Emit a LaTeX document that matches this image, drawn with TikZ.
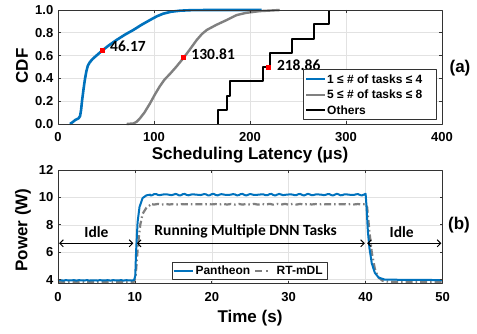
\documentclass[tikz,border=0pt]{standalone}
\usepackage{fontspec}
\setmainfont{Liberation Sans}
\newfontfamily\calibri{Carlito}
\usetikzlibrary{arrows.meta}
\definecolor{mblue}{RGB}{0,114,189}
\definecolor{mgray}{RGB}{128,128,128}
\definecolor{gridgray}{RGB}{226,226,226}
\tikzset{
	ticklabel/.style={font=\fontsize{13}{13}\selectfont\bfseries, inner sep=0pt},
	axlabel/.style={font=\fontsize{17}{17}\selectfont\bfseries, inner sep=0pt},
	callout/.style={font=\fontsize{15.5}{15.5}\selectfont\calibri\bfseries, inner sep=0pt},
	legtext/.style={font=\fontsize{12}{12}\selectfont\bfseries, anchor=west, inner sep=0pt},
	redmark/.style={fill=red, draw=none, minimum size=5pt, inner sep=0pt},
	frame/.style={draw=black!80, line width=0.8pt},
	spanarrow/.style={line width=1pt, {Straight Barb[length=3.5pt,width=7pt]}-{Straight Barb[length=3.5pt,width=7pt]}},
}

\begin{document}
\begin{tikzpicture}[x=1pt, y=1pt, line join=round]
			%%%%% START %%%%%
			\useasboundingbox[fill=white] (0,0) rectangle (477,333);
			
			% (a) scheduling latency
			\begin{scope}[shift={(58pt,209pt)}, x=0.96pt, y=114pt]
			\foreach \gx in {100,200,300} \draw[gridgray, line width=0.6pt] (\gx,0) -- (\gx,1);
			\foreach \gy in {0.2,0.4,0.6,0.8} \draw[gridgray, line width=0.6pt] (0,\gy) -- (400,\gy);
			
			\draw[line width=2.6pt, color=mblue] (12.5,0) -- (15,0.015) -- (18,0.035) -- (21.5,0.05) -- (23,0.07) -- (24,0.12) -- (25,0.2) -- (26.5,0.3) -- (28,0.39) -- (29.5,0.46) -- (31,0.51) -- (33,0.54) -- (36,0.57) -- (40,0.6) -- (46.17,0.645) -- (53,0.69) -- (61,0.737) -- (70,0.785) -- (78.5,0.825) -- (87,0.87) -- (95.8,0.912) -- (103,0.945) -- (109.7,0.968) -- (118,0.985) -- (127,0.994) -- (140,0.999) -- (160,1) -- (212,1);
			\draw[line width=2.4pt, color=mgray] (71.5,0) -- (78.5,0.005) -- (82,0.02) -- (85.4,0.05) -- (90,0.1) -- (95.8,0.18) -- (101,0.26) -- (106,0.33) -- (111,0.39) -- (116.7,0.44) -- (123,0.5) -- (130.81,0.58) -- (137,0.65) -- (144.5,0.737) -- (150,0.79) -- (155,0.825) -- (165,0.87) -- (175.7,0.912) -- (186,0.955) -- (196,0.975) -- (210,0.99) -- (231,1);
			\draw[line width=2pt, color=black] (167,0) |- (176,0.125) |- (179,0.25) |- (213.8,0.375) |- (220.8,0.5) |- (243.4,0.625) |- (267,0.75) |- (282,0.875) -- (282,1);
			
			\node[redmark] (m1) at (46.17,0.645) {};
			\node[redmark] (m2) at (130.81,0.58) {};
			\node[redmark] (m3) at (218.86,0.5) {};
			\node[callout, anchor=west] (v1) at ([xshift=5pt, yshift=4pt]m1.east) {46.17};
			\node[callout, anchor=west] (v2) at ([xshift=5pt, yshift=4pt]m2.east) {130.81};
			\node[callout, anchor=west] (v3) at ([xshift=6pt, yshift=2pt]m3.east) {218.86};
			
			\draw[frame] (0,0) rectangle (400,1);
			\foreach \gx in {100,200,300} {\draw[frame] (\gx,0) -- ++(0,3pt); \draw[frame] (\gx,1) -- ++(0,-3pt);}
			\foreach \gy in {0.2,0.4,0.6,0.8} {\draw[frame] (0,\gy) -- ++(3pt,0); \draw[frame] (400,\gy) -- ++(-3pt,0);}
			\foreach \gx in {0,100,200,300,400} \node[ticklabel] (xa\gx) at ([yshift=-13pt]\gx,0) {\gx};
			\foreach \gy/\gt in {0/0.0,0.2/0.2,0.4/0.4,0.6/0.6,0.8/0.8,1/1.0} \node[ticklabel, anchor=east] (ya\gt) at ([xshift=-4.5pt]0,\gy) {\gt};
			\end{scope}
			
			\node[axlabel] (xlabA) at (250,178) {Scheduling Latency (μs)};
			\node[axlabel, rotate=90] (ylabA) at (22,267) {CDF};
			\node[axlabel] (tagA) at (460,265) {(a)};
			
			\draw[fill=white, line width=0.8pt, draw=black!80] (303.7,214) rectangle (436,263.7);
			\coordinate (la1) at (306,253.7); \coordinate (lb1) at (325,253.7);
			\coordinate (la2) at (306,238.3); \coordinate (lb2) at (325,238.3);
			\coordinate (la3) at (306,223); \coordinate (lb3) at (325,223);
			\draw[line width=2pt, color=mblue] (la1) -- (lb1);
			\draw[line width=2pt, color=mgray] (la2) -- (lb2);
			\draw[line width=2pt, color=black] (la3) -- (lb3);
			\node[legtext] (lt1) at ([xshift=2pt]lb1) {1 ≤ \# of tasks ≤ 4};
			\node[legtext] (lt2) at ([xshift=2pt]lb2) {5 ≤ \# of tasks ≤ 8};
			\node[legtext] (lt3) at ([xshift=2pt]lb3) {Others};
			
			% (b) power
			\begin{scope}[shift={(58pt,-1.5pt)}, x=7.69pt, y=13.71pt]
			\foreach \gx in {10,20,30,40} \draw[gridgray, line width=0.6pt] (\gx,3.7) -- (\gx,12);
			\foreach \gy in {4,6,8,10} \draw[gridgray, line width=0.6pt] (0,\gy) -- (50,\gy);
			
			\draw[line width=2.2pt, color=mgray, dash pattern=on 7pt off 3pt on 1.5pt off 3pt] (0,3.85) -- (9.9,3.85) -- (10.1,4.3) -- (10.4,6.5) -- (10.7,8) -- (11,8.8) -- (11.5,9.25) -- (12,9.45) -- plot[domain=12:40, samples=57] (\x,{9.5+0.03*sin(370*\x)}) -- (40.2,9.3) -- (40.5,7.5) -- (40.8,6) -- (41.2,4.8) -- (41.6,4.2) -- (42.2,3.92) -- (43,3.85) -- (50,3.85);
			\draw[line width=2pt, color=mblue] plot[domain=0:9.9, samples=30] (\x,{3.95+0.02*sin(410*\x)}) -- (10.05,4.3) -- (10.15,6) -- (10.35,8.2) -- (10.6,9.3) -- (11,9.95) -- (11.5,10.15) -- (12,10.2) -- plot[domain=12:40, samples=113] (\x,{10.2+0.04*sin(290*\x)+0.025*sin(380*\x)}) -- (40.1,9.5) -- (40.3,7.5) -- (40.5,6.3) -- (40.8,5.2) -- (41.2,4.5) -- (41.7,4.15) -- (42.5,4.0) -- (50,3.97);
			
			\coordinate (s1a) at (0.15,6.65); \coordinate (s1b) at (9.8,6.65);
			\coordinate (s2a) at (10.25,6.65); \coordinate (s2b) at (39.9,6.65);
			\coordinate (s3a) at (40.2,6.65); \coordinate (s3b) at (49.85,6.65);
			\draw[spanarrow] (s1a) -- (s1b);
			\draw[spanarrow] (s2a) -- (s2b);
			\draw[spanarrow] (s3a) -- (s3b);
			\node[callout] (idle1) at (5,7.5) {Idle};
			\node[callout] (run) at (24.4,7.5) {Running Multiple DNN Tasks};
			\node[callout] (idle2) at (44.7,7.5) {Idle};
			
			\draw[frame] (0,3.7) rectangle (50,12);
			\foreach \gx in {10,20,30,40} {\draw[frame] (\gx,3.7) -- ++(0,3pt); \draw[frame] (\gx,12) -- ++(0,-3pt);}
			\foreach \gy in {4,6,8,10} {\draw[frame] (0,\gy) -- ++(3pt,0); \draw[frame] (50,\gy) -- ++(-3pt,0);}
			\foreach \gx in {0,10,20,30,40,50} \node[ticklabel] (xb\gx) at ([yshift=-13pt]\gx,3.7) {\gx};
			\foreach \gy in {4,6,8,10,12} \node[ticklabel, anchor=east] (yb\gy) at ([xshift=-4.5pt]0,\gy) {\gy};
			\end{scope}
			
			\node[axlabel] (xlabB) at (250,15) {Time (s)};
			\node[axlabel, rotate=90] (ylabB) at (23,103) {Power (W)};
			\node[axlabel] (tagB) at (459,108) {(b)};
			
			\draw[fill=white, line width=0.8pt, draw=black!80] (172.3,54) rectangle (327.7,71);
			\coordinate (pa) at (173.5,62.5); \coordinate (pb) at (193.3,62.5);
			\coordinate (ra) at (255,62.5); \coordinate (rb) at (273.5,62.5);
			\draw[line width=2pt, color=mblue] (pa) -- (pb);
			\draw[line width=2pt, color=mgray, dash pattern=on 7pt off 4pt on 2pt off 6pt] (ra) -- (rb);
			\node[legtext] (pt1) at ([xshift=2pt]pb) {Pantheon};
			\node[legtext] (pt2) at ([xshift=3pt]rb) {RT-mDL};
			
			%%%%% END %%%%%
\end{tikzpicture}
\end{document}
